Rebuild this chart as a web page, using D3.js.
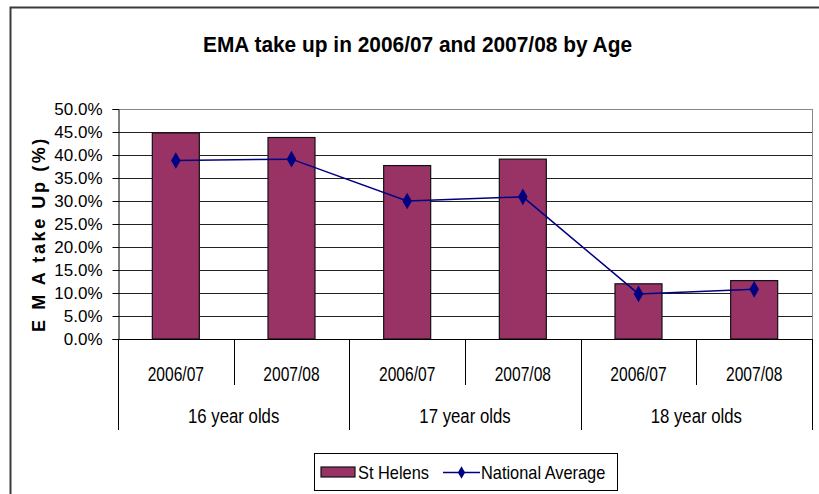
<!DOCTYPE html>
<html><head><meta charset="utf-8">
<script src="https://cdn.jsdelivr.net/npm/d3@7"></script>
<style>body{margin:0;background:#fff}svg{display:block;font-family:"Liberation Sans",Arial,sans-serif}</style>
</head><body><svg id="c" width="819" height="494"></svg>
<script>
const groups = ["16 year olds","17 year olds","18 year olds"];
const years = ["2006/07","2007/08"];
const stHelens = [44.8, 43.8, 37.7, 39.1, 12.0, 12.7];
const nationalAvg = [38.8, 39.1, 30.0, 30.9, 9.8, 10.8];
const yTicks = [0,5,10,15,20,25,30,35,40,45,50];

const cats = [];
groups.forEach(g => years.forEach(y => cats.push(g + "|" + y)));

const svg = d3.select("#c");
const L = 118, R = 812, T = 109, B = 339;
const x = d3.scaleBand().domain(cats).range([L, R]).paddingInner(0).paddingOuter(0);
const y = d3.scaleLinear().domain([0, 50]).range([B, T]);

function stext(sel, px, py, sx) {
  return sel.attr("transform", `translate(${px},${py}) scale(${sx},1)`).attr("x", 0).attr("y", 0);
}

// outer frame
svg.append("path").attr("d", `M10.5,494 L10.5,7.5 L819,7.5`).attr("fill","none").attr("stroke","#3a3a3a").attr("stroke-width",2);

// title
stext(svg.append("text"), 417.5, 52, 0.95).attr("text-anchor","middle")
  .attr("font-weight","bold").attr("font-size", 22).text("EMA take up in 2006/07 and 2007/08 by Age");

// gridlines
svg.append("g").selectAll("line").data(yTicks.filter(t => t > 0)).join("line")
  .attr("x1", L).attr("x2", R).attr("y1", d => Math.round(y(d)) + 0.5).attr("y2", d => Math.round(y(d)) + 0.5)
  .attr("stroke", d => d === 50 ? "#888" : "#222").attr("stroke-width", 1);
// right border
svg.append("line").attr("x1", R + 0.5).attr("x2", R + 0.5).attr("y1", T).attr("y2", B).attr("stroke", "#888");

// bars
const bw = 47;
svg.append("g").selectAll("rect").data(stHelens).join("rect")
  .attr("x", (d, i) => x(cats[i]) + x.bandwidth() / 2 - bw / 2)
  .attr("y", d => y(d))
  .attr("width", bw)
  .attr("height", d => B - y(d))
  .attr("fill", "#993366").attr("stroke", "#111").attr("stroke-width", 1.2);

// y axis
const yAxis = d3.axisLeft(y).tickValues(yTicks).tickSize(6).tickFormat(d => d3.format(".1f")(d) + "%");
const ga = svg.append("g").attr("transform", `translate(${L + 0.5},0)`).call(yAxis);
ga.select(".domain").attr("stroke", "#000");
ga.selectAll(".tick line").attr("stroke", "#000");
ga.selectAll(".tick text").attr("font-size", 17).attr("fill", "#000").attr("x", -16)
  .attr("font-family", '"Liberation Sans",Arial,sans-serif');

// x baseline
svg.append("line").attr("x1", L).attr("x2", R).attr("y1", B + 0.5).attr("y2", B + 0.5).attr("stroke", "#000");

// multi-level category separators
const bounds = cats.map(c => x(c)).concat([R]);
svg.append("g").selectAll("line").data(bounds).join("line")
  .attr("x1", d => Math.round(d) + 0.5).attr("x2", d => Math.round(d) + 0.5)
  .attr("y1", B).attr("y2", (d, i) => (i % 2 === 0) ? 430 : 385)
  .attr("stroke", "#000");

// year labels
svg.append("g").selectAll("text").data(cats).join("text")
  .each(function(d) { stext(d3.select(this), x(d) + x.bandwidth() / 2, 381, 0.8); })
  .attr("text-anchor", "middle").attr("font-size", 19.5).text(d => d.split("|")[1]);
// group labels
svg.append("g").selectAll("text").data(groups).join("text")
  .each(function(g, i) { stext(d3.select(this), (x(cats[i * 2]) + x(cats[i * 2 + 1]) + x.bandwidth()) / 2, 423, 0.86); })
  .attr("text-anchor", "middle").attr("font-size", 19.5).text(d => d);

// line series
const line = d3.line().x((d, i) => x(cats[i]) + x.bandwidth() / 2).y(d => y(d));
svg.append("path").datum(nationalAvg).attr("d", line).attr("fill", "none").attr("stroke", "#000080").attr("stroke-width", 1.5);
const diamond = d3.symbol().type(d3.symbolDiamond).size(80);
svg.append("g").selectAll("path").data(nationalAvg).join("path")
  .attr("transform", (d, i) => `translate(${x(cats[i]) + x.bandwidth() / 2},${y(d)})`)
  .attr("d", diamond).attr("fill", "#000080");

// y axis title
svg.append("text").attr("transform", `translate(45,234) rotate(-90)`)
  .attr("text-anchor", "middle").attr("font-weight", "bold").attr("font-size", 18)
  .attr("letter-spacing", 2.6).text("E M A take Up (%)");

// legend
const lg = svg.append("g");
lg.append("rect").attr("x", 314.5).attr("y", 453.5).attr("width", 303).attr("height", 37)
  .attr("fill", "#fff").attr("stroke", "#000").attr("stroke-width", 1);
lg.append("rect").attr("x", 321).attr("y", 467).attr("width", 34).attr("height", 10)
  .attr("fill", "#993366").attr("stroke", "#111").attr("stroke-width", 1.2);
stext(lg.append("text"), 358, 478.5, 0.91).attr("font-size", 18).text("St Helens");
lg.append("line").attr("x1", 443).attr("x2", 480).attr("y1", 472.5).attr("y2", 472.5).attr("stroke", "#000080").attr("stroke-width", 1.5);
lg.append("path").attr("transform", "translate(461.5,472.5)").attr("d", d3.symbol().type(d3.symbolDiamond).size(45)).attr("fill", "#000080");
stext(lg.append("text"), 481, 478.5, 0.91).attr("font-size", 18).text("National Average");
</script></body></html>
